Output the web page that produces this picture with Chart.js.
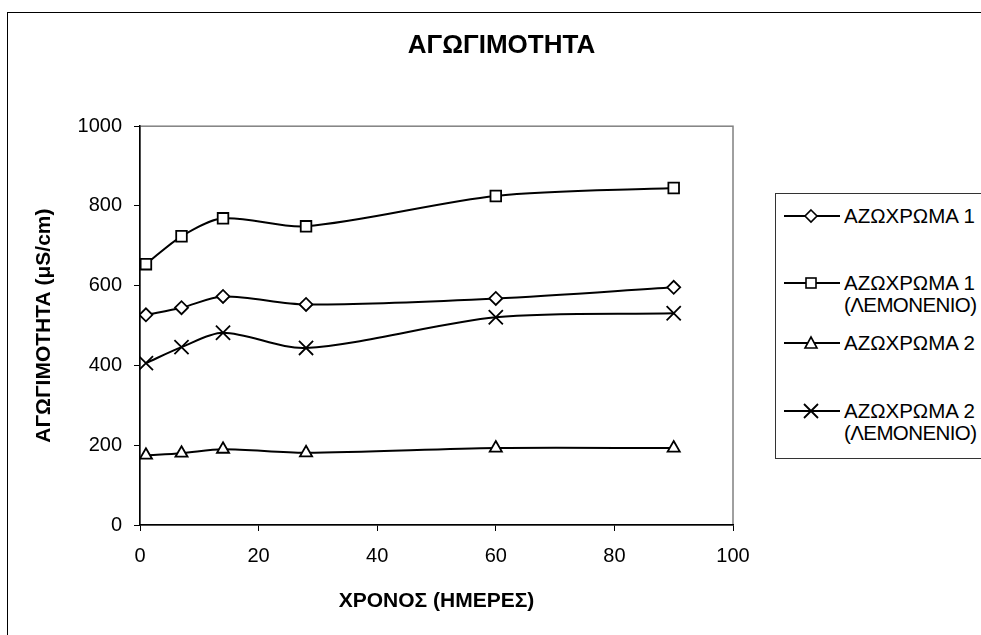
<!DOCTYPE html>
<html>
<head>
<meta charset="utf-8">
<script src="https://cdn.jsdelivr.net/npm/chart.js@4/dist/chart.umd.min.js"></script>
<style>
  html, body { margin: 0; padding: 0; background: #fff; overflow: hidden; }
  #wrap { position: relative; width: 981px; height: 635px; overflow: hidden; font-family: Arial, "Liberation Sans", sans-serif; }
  #frame { position: absolute; left: 7px; top: 12px; width: 1100px; height: 800px; border-left: 1.5px solid #000; border-top: 1.5px solid #000; }
  #chart { position: absolute; left: 0; top: 0; }
  #legend { position: absolute; left: 775px; top: 193px; width: 280px; height: 264px; border: 1px solid #333; background: #fff; }
  .item { position: absolute; left: 0; width: 280px; font-size: 20.5px; line-height: 22px; color: #000; }
  .item svg { position: absolute; left: 8px; top: 0; }
  .item .txt { position: absolute; left: 68px; top: 0; white-space: nowrap; }
  .item .sub { letter-spacing: -0.6px; }
</style>
</head>
<body>
<div id="wrap">
  <div id="frame"></div>
  <canvas id="chart" width="981" height="635"></canvas>
  <div id="legend"></div>
</div>
<script>
// days of measurement
const days = [1, 7, 14, 28, 60, 90];

// conductivity values (µS/cm)
const azo1 = [527, 545, 573, 553, 568, 596];
const azo1Lemon = [654, 724, 769, 749, 825, 845];
const azo2 = [175, 180, 190, 181, 193, 193];
const azo2Lemon = [406, 446, 482, 444, 521, 531];

const seriesLabels = [
  ['ΑΖΩΧΡΩΜΑ 1'],
  ['ΑΖΩΧΡΩΜΑ 1', '(ΛΕΜΟΝΕΝΙΟ)'],
  ['ΑΖΩΧΡΩΜΑ 2'],
  ['ΑΖΩΧΡΩΜΑ 2', '(ΛΕΜΟΝΕΝΙΟ)']
];
const seriesValues = [azo1, azo1Lemon, azo2, azo2Lemon];
const pointStyles = ['rectRot', 'rect', 'triangle', 'crossRot'];
const pointSizes = [6.5, 7.5, 7, 10];

const xTicks = [0, 20, 40, 60, 80, 100];
const yTicks = [0, 200, 400, 600, 800, 1000];

const FONT = 'Arial, "Liberation Sans", sans-serif';

const plotFrame = {
  id: 'plotFrame',
  beforeDraw(chart) {
    const { ctx, chartArea: a } = chart;
    ctx.save();
    ctx.strokeStyle = '#808080';
    ctx.lineWidth = 1.5;
    ctx.strokeRect(a.left, a.top, a.right - a.left, a.bottom - a.top);
    ctx.restore();
  }
};

const datasets = seriesValues.map((vals, i) => ({
  label: seriesLabels[i].join(' '),
  data: vals.map((v, j) => ({ x: days[j], y: v })),
  borderColor: '#000',
  borderWidth: 2,
  tension: 0.3,
  pointStyle: pointStyles[i],
  pointRadius: pointSizes[i],
  pointBackgroundColor: '#fff',
  pointBorderColor: '#000',
  pointBorderWidth: 1.8,
  fill: false
}));

new Chart(document.getElementById('chart'), {
  type: 'line',
  data: { datasets },
  plugins: [plotFrame],
  options: {
    responsive: false,
    animation: false,
    devicePixelRatio: 1,
    layout: { padding: { left: 22, right: 0, top: 0, bottom: 0 } },
    plugins: {
      legend: { display: false },
      tooltip: { enabled: false },
      title: {
        display: true,
        text: 'ΑΓΩΓΙΜΟΤΗΤΑ',
        color: '#000',
        font: { family: FONT, size: 26, weight: 'bold' },
        padding: { top: 30, bottom: 65 }
      }
    },
    scales: {
      x: {
        type: 'linear',
        min: 0,
        max: 100,
        afterBuildTicks: s => { s.ticks = xTicks.map(v => ({ value: v })); },
        afterFit: s => { s.height = 110; },
        ticks: { color: '#000', padding: 13, font: { family: FONT, size: 20 }, callback: v => String(v) },
        grid: { drawOnChartArea: false, drawTicks: true, tickLength: 6, tickColor: '#000', tickWidth: 1 },
        border: { color: '#000', width: 1.5 },
        title: {
          display: true,
          text: 'ΧΡΟΝΟΣ (ΗΜΕΡΕΣ)',
          color: '#000',
          font: { family: FONT, size: 21, weight: 'bold' },
          padding: { top: 0, bottom: 21 }
        }
      },
      y: {
        min: 0,
        max: 1000,
        afterBuildTicks: s => { s.ticks = yTicks.map(v => ({ value: v })); },
        afterFit: s => { s.width = 118; },
        ticks: { color: '#000', padding: 12, font: { family: FONT, size: 20 }, callback: v => String(v) },
        grid: { drawOnChartArea: false, drawTicks: true, tickLength: 6, tickColor: '#000', tickWidth: 1 },
        border: { color: '#000', width: 1.5 },
        title: {
          display: true,
          text: 'ΑΓΩΓΙΜΟΤΗΤΑ (μS/cm)',
          color: '#000',
          font: { family: FONT, size: 21, weight: 'bold' },
          padding: { top: 10, bottom: 0 }
        }
      },
      // empty right-hand axis reserving room for the legend
      legendSpace: {
        position: 'right',
        display: true,
        afterFit: s => { s.width = 248; },
        ticks: { display: false },
        grid: { display: false },
        border: { display: false }
      }
    }
  }
});

// legend on the right (multi-line labels)
const legendTops = [11, 78, 138, 206];
function markerSvg(style) {
  let shape = '';
  if (style === 'rectRot') shape = '<polygon points="27,5 33,11 27,17 21,11" fill="#fff" stroke="#000" stroke-width="1.6"/>';
  if (style === 'rect') shape = '<rect x="22" y="6" width="10" height="10" fill="#fff" stroke="#000" stroke-width="1.6"/>';
  if (style === 'triangle') shape = '<polygon points="27,5 33,16 21,16" fill="#fff" stroke="#000" stroke-width="1.6"/>';
  if (style === 'crossRot') shape = '<path d="M20,4 L34,18 M34,4 L20,18" stroke="#000" stroke-width="1.8"/>';
  return '<svg width="56" height="22"><line x1="0" y1="11" x2="56" y2="11" stroke="#000" stroke-width="2"/>' + shape + '</svg>';
}
const legendEl = document.getElementById('legend');
seriesLabels.forEach((lines, i) => {
  const div = document.createElement('div');
  div.className = 'item';
  div.style.top = legendTops[i] + 'px';
  const text = lines.map((l, k) => k === 0 ? l : '<span class="sub">' + l + '</span>').join('<br>');
  div.innerHTML = markerSvg(pointStyles[i]) + '<div class="txt">' + text + '</div>';
  legendEl.appendChild(div);
});
</script>
</body>
</html>
